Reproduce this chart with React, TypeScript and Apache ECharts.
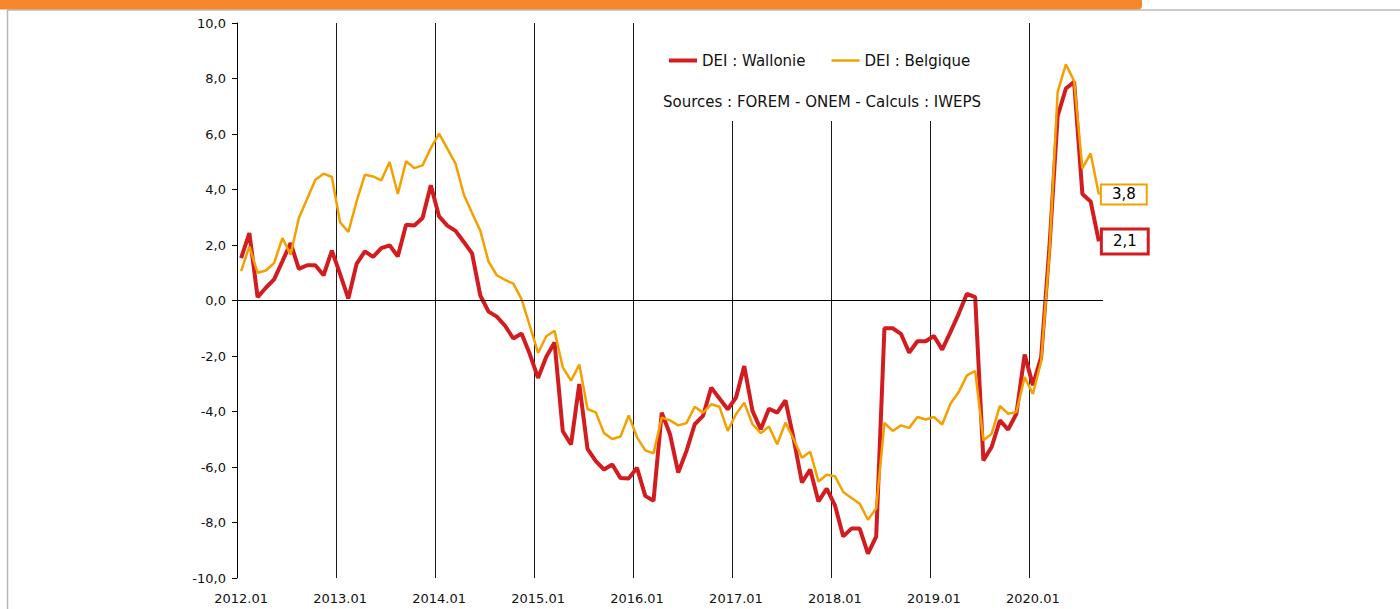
import React, { useEffect, useRef } from "react";
import * as echarts from "echarts";

// ---- Data ----
const years = [2012, 2013, 2014, 2015, 2016, 2017, 2018, 2019, 2020];
const monthCodes = ["01", "02", "03", "04", "05", "06", "07", "08", "09", "10", "11", "12"];
const lastPeriod = "2020.09";
const categories: string[] = [];
for (const y of years) {
  for (const m of monthCodes) {
    if (categories.length && categories[categories.length - 1] === lastPeriod) break;
    categories.push(`${y}.${m}`);
  }
}

const seriesNames = ["DEI : Wallonie", "DEI : Belgique"];

const wallonie = [
  1.53, 2.43, 0.12, 0.46, 0.76, 1.41, 2.07, 1.14, 1.27, 1.27, 0.91, 1.8,
  0.95, 0.07, 1.32, 1.77, 1.57, 1.89, 1.99, 1.59, 2.73, 2.7, 2.97, 4.15,
  3.03, 2.7, 2.51, 2.11, 1.7, 0.18, -0.4, -0.58, -0.91, -1.37, -1.19, -1.93,
  -2.79, -2.03, -1.51, -4.71, -5.19, -3.01, -5.35, -5.79, -6.09, -5.91, -6.4, -6.41,
  -6.03, -7.04, -7.22, -4.04, -4.82, -6.2, -5.42, -4.46, -4.16, -3.14, -3.53, -3.92,
  -3.5, -2.36, -3.98, -4.64, -3.9, -4.04, -3.6, -5.0, -6.56, -6.09, -7.24, -6.78,
  -7.38, -8.5, -8.22, -8.22, -9.12, -8.51, -1.0, -1.0, -1.2, -1.88, -1.47, -1.47,
  -1.28, -1.77, -1.14, -0.48, 0.24, 0.12, -5.76, -5.28, -4.32, -4.65, -4.08, -1.95,
  -3.05, -2.05, 1.9, 6.65, 7.64, 7.88, 3.84, 3.57, 2.13,
];

const belgique = [
  1.06, 1.95, 1.0, 1.08, 1.35, 2.25, 1.65, 2.97, 3.66, 4.35, 4.57, 4.45,
  2.82, 2.47, 3.57, 4.53, 4.47, 4.33, 4.99, 3.84, 5.02, 4.77, 4.87, 5.49,
  6.01, 5.47, 4.93, 3.82, 3.15, 2.51, 1.4, 0.91, 0.74, 0.61, 0.05, -0.91,
  -1.89, -1.29, -1.09, -2.41, -2.89, -2.31, -3.91, -4.03, -4.78, -4.99, -4.9, -4.14,
  -4.93, -5.4, -5.51, -4.22, -4.32, -4.5, -4.42, -3.83, -4.04, -3.74, -3.83, -4.7,
  -4.1, -3.68, -4.46, -4.78, -4.54, -5.18, -4.4, -5.0, -5.67, -5.45, -6.52, -6.28,
  -6.33, -6.9, -7.12, -7.32, -7.9, -7.49, -4.41, -4.7, -4.5, -4.59, -4.2, -4.29,
  -4.2, -4.47, -3.72, -3.3, -2.7, -2.54, -5.04, -4.8, -3.8, -4.08, -4.02, -2.76,
  -3.37, -2.2, 1.7, 7.52, 8.51, 7.91, 4.76, 5.3, 3.82,
];

const yMin = -10;
const yMax = 10;
const yStep = 2;
const sourceText = "Sources : FOREM - ONEM - Calculs : IWEPS";

const RED = "#D21C1F";
const ORANGE = "#F4A000";
const FONT = "DejaVu Sans";
const GRID_LINE = "#1a1a1a";

const fmt = (v: number) => v.toFixed(1).replace(".", ",");

// one colour per year boundary line; the closing boundary at the right edge is hidden
const yearLineCount = Math.floor((categories.length - 1) / 12) + 1;
const splitColors: string[] = [];
for (let i = 0; i < yearLineCount; i++) splitColors.push(GRID_LINE);
splitColors.push("rgba(0,0,0,0)");

export default function App() {
  const ref = useRef<HTMLDivElement>(null);

  useEffect(() => {
    if (!ref.current) return;
    const chart = echarts.init(ref.current, undefined, { renderer: "svg" });
    chart.setOption({
      animation: false,
      backgroundColor: "#ffffff",
      textStyle: { fontFamily: FONT },
      grid: { left: 237, right: 297, top: 23, bottom: 31, containLabel: false },
      legend: {
        data: [
          { name: seriesNames[0], icon: "path://M0 0H28V4H0Z" },
          { name: seriesNames[1], icon: "path://M0 0H28V2.5H0Z" },
        ],
        left: 664,
        top: 48,
        itemWidth: 28,
        itemHeight: 14,
        itemGap: 26,
        textStyle: { fontFamily: FONT, fontSize: 15, color: "#111" },
      },
      graphic: [
        {
          type: "line",
          shape: { x1: 7, y1: 10, x2: 1400, y2: 10 },
          style: { stroke: "#cccccc", lineWidth: 2 },
          z: 0,
        },
        {
          type: "line",
          shape: { x1: 7.5, y1: 10, x2: 7.5, y2: 609 },
          style: { stroke: "#b8b8b8", lineWidth: 1.5 },
          z: 0,
        },
        {
          type: "rect",
          shape: { x: 0, y: 0, width: 1142, height: 9.5, r: [0, 0, 4, 0] },
          style: { fill: "#F6872A" },
          z: 5,
        },
        {
          type: "rect",
          shape: { x: 645, y: 22, width: 365, height: 99 },
          style: { fill: "#ffffff" },
          z: 1,
        },
        {
          type: "text",
          x: 822,
          y: 102,
          style: {
            text: sourceText,
            fontFamily: FONT,
            fontSize: 15,
            fill: "#111",
            textAlign: "center",
            textVerticalAlign: "middle",
          },
          z: 10,
        },
      ],
      xAxis: {
        type: "category",
        data: categories,
        boundaryGap: true,
        axisLine: { show: false },
        axisTick: { show: false },
        axisLabel: {
          interval: 11,
          color: "#111",
          fontFamily: FONT,
          fontSize: 13,
          margin: 14,
        },
        splitLine: {
          show: true,
          interval: 11,
          lineStyle: { color: splitColors, width: 1 },
        },
      },
      yAxis: {
        type: "value",
        min: yMin,
        max: yMax,
        interval: yStep,
        axisLine: { show: true, lineStyle: { color: "#000", width: 1 } },
        axisTick: { show: true, length: 5, lineStyle: { color: "#000" } },
        splitLine: { show: false },
        axisLabel: {
          formatter: (v: number) => fmt(v),
          color: "#111",
          fontFamily: FONT,
          fontSize: 13,
          margin: 11,
        },
      },
      series: [
        {
          name: seriesNames[0],
          type: "line",
          data: wallonie,
          symbol: "none",
          lineStyle: { color: RED, width: 4 },
          itemStyle: { color: RED },
          z: 3,
          endLabel: {
            show: true,
            formatter: (p: any) => fmt(p.value),
            distance: 4,
            color: "#000",
            fontFamily: FONT,
            fontSize: 15,
            backgroundColor: "#fff",
            borderColor: RED,
            borderWidth: 3,
            padding: [4, 10, 3, 10],
          },
          markLine: {
            silent: true,
            symbol: ["none", "none"],
            label: { show: false },
            lineStyle: { color: "#000", width: 1, type: "solid" },
            data: [{ yAxis: 0 }],
          },
        },
        {
          name: seriesNames[1],
          type: "line",
          data: belgique,
          symbol: "none",
          lineStyle: { color: ORANGE, width: 2.5 },
          itemStyle: { color: ORANGE },
          z: 4,
          endLabel: {
            show: true,
            formatter: (p: any) => fmt(p.value),
            distance: 3,
            color: "#000",
            fontFamily: FONT,
            fontSize: 15,
            backgroundColor: "#fff",
            borderColor: ORANGE,
            borderWidth: 2,
            padding: [2, 10, 1, 10],
          },
        },
      ],
    });
    return () => chart.dispose();
  }, []);

  return (
    <div
      ref={ref}
      style={{ position: "absolute", left: 0, top: 0, width: 1400, height: 609 }}
    />
  );
}
